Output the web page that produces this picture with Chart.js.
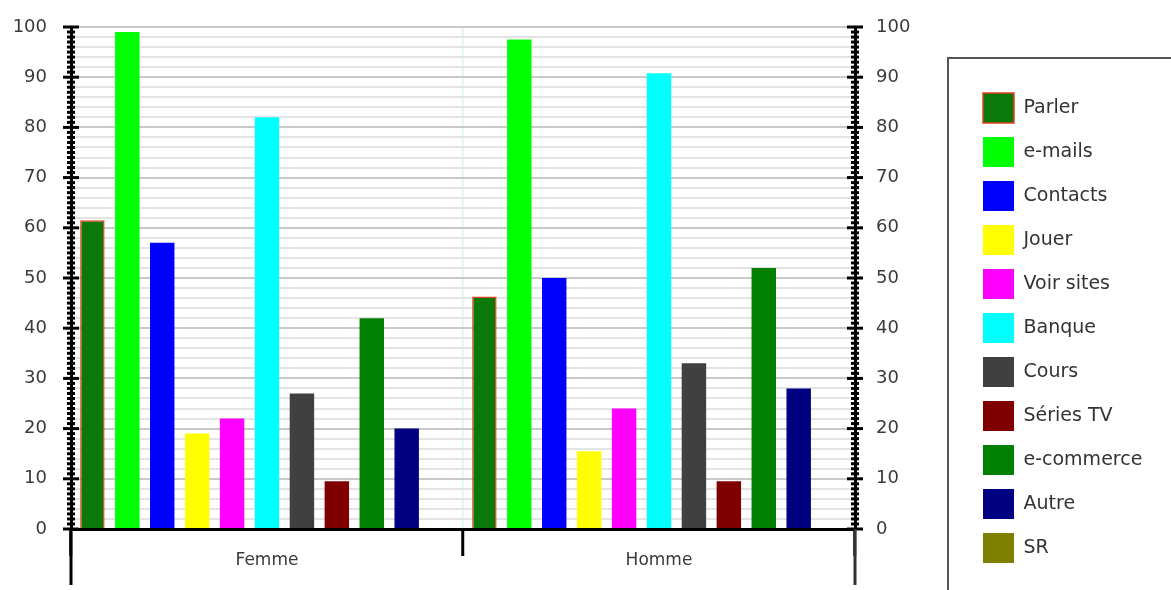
<!DOCTYPE html>
<html><head><meta charset="utf-8">
<script src="https://cdn.jsdelivr.net/npm/chart.js@4.4.1/dist/chart.umd.min.js"></script>
<style>html,body{margin:0;padding:0;background:#fff;overflow:hidden}#wrap{width:1171px;height:590px;position:relative}</style>
</head><body><div id="wrap"><canvas id="c"></canvas></div>
<script>
// ---- data ----
const categories = ['Femme', 'Homme'];
const seriesNames = ['Parler', 'e-mails', 'Contacts', 'Jouer', 'Voir sites', 'Banque', 'Cours', 'Séries TV', 'e-commerce', 'Autre', 'SR'];
const parler    = [61.5, 46.3];
const emails    = [99, 97.5];
const contacts  = [57, 50];
const jouer     = [19, 15.5];
const voirSites = [22, 24];
const banque    = [82, 90.8];
const cours     = [27, 33];
const seriesTV  = [9.5, 9.5];
const eCommerce = [42, 52];
const autre     = [20, 28];
const sr        = [0, 0];
const yTickLabels = [0, 10, 20, 30, 40, 50, 60, 70, 80, 90, 100];

const seriesValues = [parler, emails, contacts, jouer, voirSites, banque, cours, seriesTV, eCommerce, autre, sr];
const seriesColors = ['#0a780a', '#00ff00', '#0000ff', '#ffff00', '#ff00ff', '#00ffff', '#404040', '#800000', '#008000', '#000080', '#808000'];

const LEGEND_W = 202;

const datasets = seriesNames.map((n, i) => ({
  label: n,
  data: seriesValues[i],
  backgroundColor: seriesColors[i],
  borderColor: i === 0 ? '#e0401e' : seriesColors[i],
  borderWidth: i === 0 ? 1.5 : 0,
  categoryPercentage: 0.98,
  barPercentage: 0.7,
  yAxisID: 'y'
}));

const legendWidthPlugin = {
  id: 'legendWidth',
  beforeLayout(chart) {
    const lg = chart.legend;
    if (lg && !lg.__patched) {
      const f = lg.fit;
      lg.fit = function () { f.call(this); this.width = LEGEND_W; };
      lg.__patched = true;
    }
  }
};

const decoPlugin = {
  id: 'deco',
  afterDraw(chart) {
    const ctx = chart.ctx;
    const ca = chart.chartArea;
    ctx.save();
    // y axis tick marks crossing the axis lines
    ['y', 'y2'].forEach(id => {
      const s = chart.scales[id];
      const ax = id === 'y' ? ca.left : ca.right;
      ctx.strokeStyle = '#000';
      ctx.lineWidth = 3;
      s.ticks.forEach(t => {
        const p = s.getPixelForValue(t.value);
        const L = (t.value % 10 === 0) ? 8 : 4;
        ctx.beginPath();
        ctx.moveTo(ax - L, p);
        ctx.lineTo(ax + L, p);
        ctx.stroke();
      });
    });
    // extensions of the vertical axes below the x axis
    ctx.lineWidth = 3;
    ctx.strokeStyle = '#000';
    ctx.beginPath(); ctx.moveTo(ca.left, ca.bottom); ctx.lineTo(ca.left, ca.bottom + 56); ctx.stroke();
    ctx.strokeStyle = '#333';
    ctx.beginPath(); ctx.moveTo(ca.right, ca.bottom); ctx.lineTo(ca.right, ca.bottom + 56); ctx.stroke();
    // legend frame
    const lg = chart.legend;
    ctx.strokeStyle = '#555';
    ctx.lineWidth = 2;
    ctx.strokeRect(lg.left - 21, lg.top + 31, 400, 700);
    ctx.restore();
  }
};

Chart.defaults.font.family = '"DejaVu Sans", Verdana, sans-serif';
Chart.defaults.color = '#333';

function fixY(width) {
  return s => { s.width = width; s.paddingTop = 0; s.paddingBottom = 0; };
}

new Chart(document.getElementById('c'), {
  type: 'bar',
  data: { labels: categories, datasets },
  options: {
    responsive: true,
    maintainAspectRatio: false,
    animation: false,
    devicePixelRatio: 1,
    layout: { padding: { top: 27, left: 0, right: 0, bottom: 0 } },
    plugins: {
      tooltip: { enabled: false },
      legend: {
        position: 'right',
        align: 'start',
        title: { display: true, text: '', font: { size: 10, lineHeight: 1 }, padding: { top: 42, bottom: 0 } },
        labels: { boxWidth: 31, boxHeight: 30, padding: 14, color: '#333', font: { size: 19 } }
      }
    },
    scales: {
      x: {
        offset: true,
        grid: { display: true, offset: true, color: '#dcf2f2', lineWidth: 1.5, drawTicks: true, tickLength: 27, tickWidth: 3, tickColor: '#000' },
        border: { display: true, color: '#000', width: 3, z: 1 },
        ticks: { padding: -6, color: '#3a3a3a', font: { size: 17 } },
        afterFit(s) { s.height = 61; }
      },
      y: {
        position: 'left',
        min: 0, max: 100,
        ticks: {
          stepSize: 1, autoSkip: false, padding: 24, color: '#3a3a3a', font: { size: 18 },
          callback: v => yTickLabels.includes(v) ? String(v) : ''
        },
        grid: {
          drawTicks: false,
          lineWidth: 2,
          color: c => (c.tick && c.tick.value % 10 === 0) ? '#c9c9c9' : ((c.tick && c.tick.value % 2 === 0) ? '#e4e4e4' : 'rgba(0,0,0,0)')
        },
        border: { display: true, color: '#000', width: 3, z: 1 },
        afterFit: fixY(71)
      },
      y2: {
        position: 'right',
        min: 0, max: 100,
        ticks: {
          stepSize: 1, autoSkip: false, padding: 21, color: '#3a3a3a', font: { size: 18 },
          callback: v => yTickLabels.includes(v) ? String(v) : ''
        },
        grid: { drawOnChartArea: false, drawTicks: false },
        border: { display: true, color: '#000', width: 3, z: 1 },
        afterFit: fixY(114)
      }
    }
  },
  plugins: [legendWidthPlugin, decoPlugin]
});
</script>
</body></html>
